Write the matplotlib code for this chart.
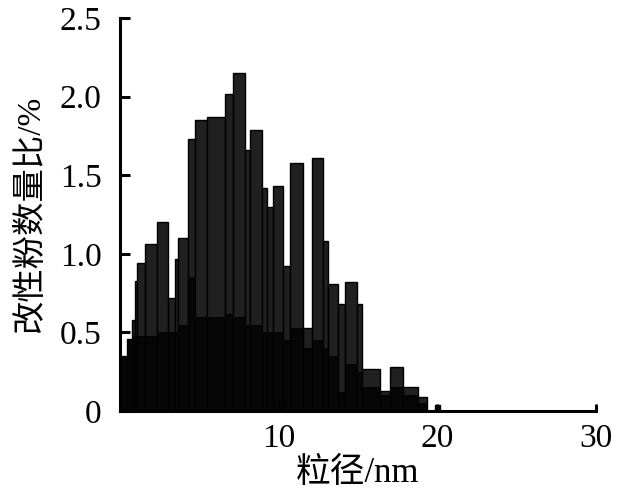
import numpy as np
import matplotlib
matplotlib.use("Agg")
import matplotlib.pyplot as plt

# bin edges (nm) and heights (%)
edges = [0.0, 0.44, 0.76, 0.95, 1.07, 1.58, 2.33, 3.02, 3.47, 3.65, 4.28, 4.73,
         5.48, 6.62, 7.12, 7.88, 8.19, 8.95, 9.26, 9.64, 10.27, 10.71, 11.53,
         12.10, 12.79, 13.10, 13.74, 14.18, 14.93, 15.25, 16.38, 17.01, 17.83,
         18.78, 19.34, 19.85, 20.16]
heights = [0.35, 0.46, 0.58, 0.83, 0.94, 1.06, 1.20, 0.72, 0.97, 1.10, 1.73,
           1.85, 1.87, 2.02, 2.15, 1.66, 1.79, 1.42, 1.30, 1.43, 0.92, 1.58,
           0.53, 1.61, 1.08, 0.81, 0.68, 0.82, 0.68, 0.27, 0.13, 0.28, 0.15,
           0.09, 0.0, 0.04]
# darker overlapping layer seen at the foot of the bars
inner = [0.35, 0.46, 0.48, 0.48, 0.48, 0.48, 0.50, 0.50, 0.50, 0.55, 0.85,
         0.60, 0.60, 0.62, 0.60, 0.55, 0.55, 0.50, 0.50, 0.50, 0.45, 0.53,
         0.40, 0.45, 0.40, 0.35, 0.12, 0.30, 0.25, 0.15, 0.10, 0.15, 0.10,
         0.05, 0.0, 0.04]

yticks = [0, 0.5, 1.0, 1.5, 2.0, 2.5]
ytick_labels = ["0", "0.5", "1.0", "1.5", "2.0", "2.5"]
xticks = [10, 20, 30]

plt.rcParams['font.family'] = ['Liberation Serif', 'Noto Sans CJK SC']

fig = plt.figure(figsize=(6.18, 4.91), dpi=100)
ax = fig.add_axes([0.194, 0.163, 0.770, 0.800])

left = np.array(edges[:-1])
widths = np.diff(edges)
ax.bar(left, heights, width=widths, align='edge', color='#202020',
       edgecolor='black', linewidth=1.0)
ax.bar(left, inner, width=widths, align='edge', color='#060606',
       edgecolor='black', linewidth=0.6)

ax.set_xlim(0, 30)
ax.set_ylim(0, 2.5)
ax.set_yticks(yticks)
ax.set_yticklabels(ytick_labels)
ax.set_xticks(xticks)

for s in ['top', 'right']:
    ax.spines[s].set_visible(False)
for s in ['left', 'bottom']:
    ax.spines[s].set_linewidth(2.2)

ax.tick_params(axis='y', direction='in', length=7, width=2.2, pad=13,
               labelsize=24)
ax.tick_params(axis='x', direction='in', length=5, width=2.2, pad=9,
               labelsize=24)

ax.set_xlabel('粒径/nm', fontsize=25, labelpad=2)
ax.set_ylabel('改性粉数量比/%', fontsize=24, labelpad=10)

fig.savefig('out.png', dpi=100)
